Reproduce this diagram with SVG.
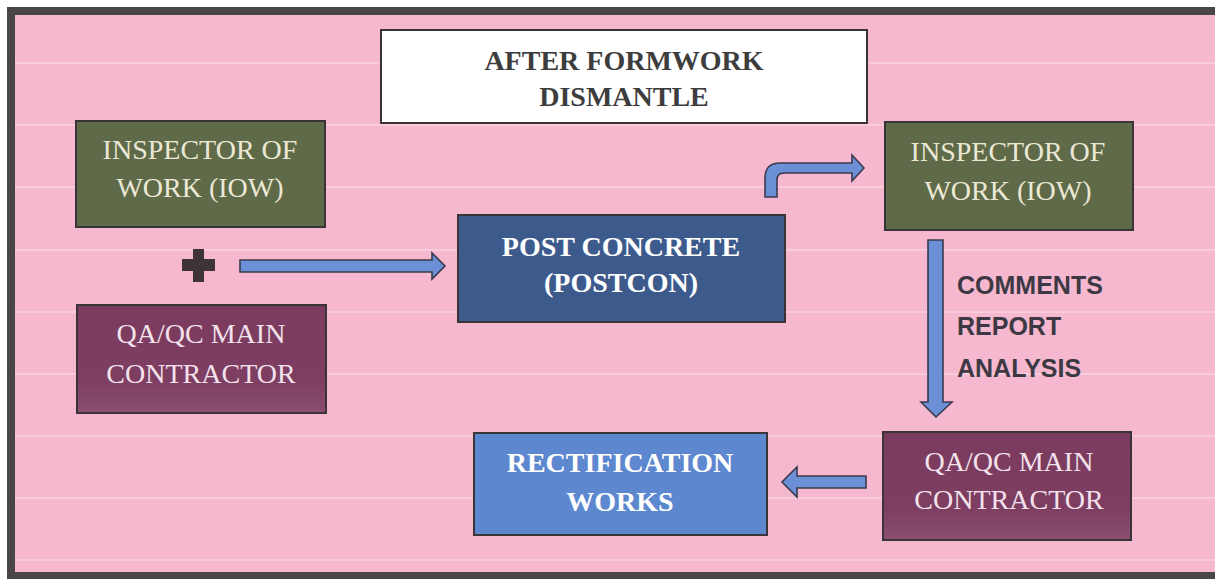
<svg xmlns="http://www.w3.org/2000/svg" width="1215" height="579" viewBox="0 0 1215 579">
  <style>
    .box { stroke: #3a3436; stroke-width: 2; }
    .green { fill: #5f6a48; }
    .maroon { fill: url(#maroonGrad); }
    .navy { fill: #3d5a8d; }
    .blue { fill: #5d87cf; }
    .title { fill: #ffffff; }
    .arrow { fill: #6b90d6; stroke: #3b3a4c; stroke-width: 1.6; stroke-linejoin: miter; }
    .serif { font-family: "Liberation Serif", "Times New Roman", serif; font-size: 28px; text-anchor: middle; }
    .light { fill: #ece8d6; }
    .pinkish { fill: #f3e2ec; }
    .white { fill: #ffffff; font-weight: bold; }
    .dark { fill: #3d3d3d; font-weight: bold; }
    .note { font-family: "Liberation Sans", Arial, sans-serif; font-weight: bold; font-size: 25px; fill: #3d3944; }
    .stripe { stroke: #fbd3df; stroke-width: 1.6; }
  </style>
  <defs>
    <linearGradient id="maroonGrad" x1="0" y1="0" x2="0" y2="1">
      <stop offset="0" stop-color="#7a3b5e"/>
      <stop offset="0.7" stop-color="#7d3e61"/>
      <stop offset="1" stop-color="#8a4f72"/>
    </linearGradient>
  </defs>

  <!-- page and frame -->
  <rect x="0" y="0" width="1215" height="579" fill="#ffffff"/>
  <rect x="7" y="7" width="1208" height="572" fill="#4a4548"/>
  <rect x="15" y="15" width="1200" height="557" fill="#f6b8ce"/>

  <!-- ruled background lines -->
  <g id="stripes">
    <line class="stripe" x1="15" y1="63" x2="1215" y2="63"/>
    <line class="stripe" x1="15" y1="125" x2="1215" y2="125"/>
    <line class="stripe" x1="15" y1="187" x2="1215" y2="187"/>
    <line class="stripe" x1="15" y1="250" x2="1215" y2="250"/>
    <line class="stripe" x1="15" y1="312" x2="1215" y2="312"/>
    <line class="stripe" x1="15" y1="374" x2="1215" y2="374"/>
    <line class="stripe" x1="15" y1="436" x2="1215" y2="436"/>
    <line class="stripe" x1="15" y1="498" x2="1215" y2="498"/>
    <line class="stripe" x1="15" y1="560" x2="1215" y2="560"/>
  </g>

  <!-- title -->
  <g id="title">
    <rect class="box title" x="381" y="30" width="486" height="93"/>
    <text class="serif dark" x="624" y="70">AFTER FORMWORK</text>
    <text class="serif dark" x="624" y="106">DISMANTLE</text>
  </g>

  <!-- left inspector -->
  <g id="iow-left">
    <rect class="box green" x="76" y="121" width="249" height="106"/>
    <text class="serif light" x="200" y="159">INSPECTOR OF</text>
    <text class="serif light" x="200" y="197">WORK (IOW)</text>
  </g>

  <!-- plus sign -->
  <g id="plus">
    <rect x="193" y="249" width="11" height="33" fill="#3e3436"/>
    <rect x="182" y="259" width="33" height="12" fill="#3e3436"/>
  </g>

  <!-- left contractor -->
  <g id="qaqc-left">
    <rect class="box maroon" x="77" y="305" width="249" height="108"/>
    <text class="serif pinkish" x="201" y="343">QA/QC MAIN</text>
    <text class="serif pinkish" x="201" y="383">CONTRACTOR</text>
  </g>

  <!-- post concrete -->
  <g id="postcon">
    <rect class="box navy" x="458" y="215" width="327" height="107"/>
    <text class="serif white" x="621" y="256">POST CONCRETE</text>
    <text class="serif white" x="621" y="292">(POSTCON)</text>
  </g>

  <!-- right inspector -->
  <g id="iow-right">
    <rect class="box green" x="885" y="122" width="248" height="108"/>
    <text class="serif light" x="1008" y="161">INSPECTOR OF</text>
    <text class="serif light" x="1008" y="200">WORK (IOW)</text>
  </g>

  <!-- right contractor -->
  <g id="qaqc-right">
    <rect class="box maroon" x="883" y="432" width="248" height="108"/>
    <text class="serif pinkish" x="1009" y="471">QA/QC MAIN</text>
    <text class="serif pinkish" x="1009" y="509">CONTRACTOR</text>
  </g>

  <!-- rectification -->
  <g id="rectification">
    <rect class="box blue" x="474" y="433" width="293" height="102"/>
    <text class="serif white" x="620" y="472">RECTIFICATION</text>
    <text class="serif white" x="620" y="511">WORKS</text>
  </g>

  <!-- connectors -->
  <g id="connectors">
    <path class="arrow" d="M240,260 H432 V253 L445,266 L432,279 V272 H240 Z"/>
    <path class="arrow" d="M765,197 V178 Q765,163 780,163 H852 V155 L864,168 L852,181 V173 H784 Q777,173 777,180 V197 Z"/>
    <path class="arrow" d="M928,240 H943 V402 H952 L936,417 L921,402 H928 Z"/>
    <path class="arrow" d="M866,476 V488 H797 V497 L782,482 L797,467 V476 Z"/>
  </g>

  <!-- note beside the downward arrow -->
  <g id="note">
    <text class="note" x="957" y="294">COMMENTS</text>
    <text class="note" x="957" y="335">REPORT</text>
    <text class="note" x="957" y="377">ANALYSIS</text>
  </g>
</svg>
